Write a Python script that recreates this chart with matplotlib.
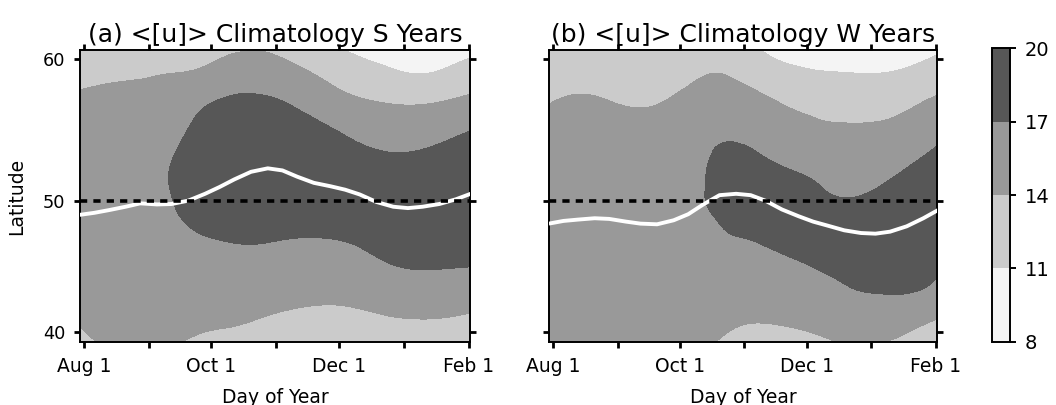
import numpy as np
import matplotlib
matplotlib.use("Agg")
import matplotlib.pyplot as plt
import matplotlib.tri as mtri

# ---------------- data ----------------
days = [-3, 10, 25, 40, 55, 70, 85, 100, 115, 130, 145, 160, 175, 188]   # days since Aug 1
lats = [39, 41, 43, 45, 47, 49, 51, 53, 55, 57, 59, 61]

# <[u]> profiles (m/s), one list per day column, values at lats above
u_S_by_day = [
    [13.3, 14.2, 15.0, 15.6, 15.9, 16.0, 16.0, 15.8, 15.3, 14.5, 13.2, 11.8],
    [14.1, 14.8, 15.3, 15.7, 16.0, 16.2, 16.2, 16.0, 15.6, 14.8, 13.5, 12.0],
    [14.3, 14.9, 15.5, 15.9, 16.2, 16.4, 16.5, 16.3, 15.9, 15.0, 13.7, 12.2],
    [14.1, 14.9, 15.5, 16.0, 16.4, 16.75, 16.95, 16.85, 16.3, 15.3, 14.0, 12.4],
    [13.7, 14.5, 15.3, 16.0, 16.75, 17.5, 17.9, 17.9, 17.5, 16.55, 14.4, 12.6],
    [13.4, 14.3, 15.2, 16.1, 17.05, 17.9, 18.4, 18.5, 18.2, 17.35, 15.5, 13.2],
    [13.0, 13.95, 14.95, 16.0, 17.1, 17.9, 18.4, 18.6, 18.3, 17.4, 15.7, 13.5],
    [12.6, 13.6, 14.65, 15.8, 16.9, 17.8, 18.3, 18.4, 17.95, 16.8, 14.8, 12.6],
    [12.4, 13.4, 14.5, 15.7, 16.9, 17.6, 18.0, 17.9, 17.35, 15.6, 13.55, 11.3],
    [12.5, 13.5, 14.7, 16.0, 17.15, 17.7, 17.9, 17.6, 16.5, 14.5, 12.3, 10.3],
    [12.9, 13.85, 15.2, 16.75, 17.7, 18.0, 17.9, 17.3, 15.9, 13.95, 11.55, 9.5],
    [13.1, 14.0, 15.6, 17.1, 17.9, 18.2, 18.0, 17.35, 16.0, 13.8, 11.0, 9.0],
    [13.0, 13.9, 15.5, 17.05, 17.9, 18.2, 18.1, 17.6, 16.6, 14.3, 11.6, 9.6],
    [12.7, 13.6, 15.2, 16.95, 17.8, 18.1, 18.1, 17.8, 17.15, 15.0, 12.4, 10.2],
]
u_W_by_day = [
    [14.6, 15.0, 15.4, 15.7, 15.9, 16.0, 16.0, 15.8, 15.2, 13.85, 12.5, 11.5],
    [14.7, 15.1, 15.5, 15.8, 16.0, 16.1, 16.1, 15.9, 15.4, 14.45, 12.8, 11.6],
    [14.8, 15.2, 15.6, 15.9, 16.1, 16.2, 16.2, 16.0, 15.4, 14.2, 12.6, 11.5],
    [14.8, 15.2, 15.6, 16.0, 16.2, 16.3, 16.3, 16.1, 15.3, 13.7, 12.3, 11.3],
    [14.7, 15.2, 15.7, 16.1, 16.4, 16.6, 16.6, 16.4, 15.7, 14.2, 12.7, 11.5],
    [14.4, 15.0, 15.6, 16.1, 16.5, 16.7, 16.8, 16.65, 16.3, 15.2, 13.75, 12.2],
    [13.55, 14.4, 15.3, 16.1, 16.8, 17.5, 17.9, 17.6, 16.6, 15.3, 13.85, 12.3],
    [13.3, 14.15, 15.2, 16.2, 17.1, 17.8, 18.0, 17.2, 16.0, 14.65, 12.6, 10.7],
    [13.4, 14.35, 15.5, 16.6, 17.6, 18.0, 17.6, 16.5, 15.2, 13.6, 11.6, 9.8],
    [13.75, 14.7, 16.0, 17.2, 17.8, 17.65, 16.95, 15.95, 14.5, 13.1, 11.2, 9.4],
    [14.05, 15.2, 16.8, 17.7, 18.0, 17.6, 16.65, 15.7, 14.4, 12.9, 11.05, 9.3],
    [13.85, 15.3, 17.05, 17.9, 18.1, 17.9, 17.15, 16.1, 14.6, 13.05, 11.1, 9.2],
    [13.4, 14.6, 16.85, 17.75, 18.1, 18.1, 17.7, 16.95, 15.5, 13.85, 11.75, 9.7],
    [12.7, 13.8, 15.8, 17.2, 17.9, 18.2, 18.2, 17.7, 16.6, 14.8, 12.6, 10.6],
]

# jet latitude (white line)
jet_days = [-2, 5, 12, 20, 27, 35, 42, 50, 58, 65, 72, 80, 88, 95, 102, 110,
            118, 125, 132, 140, 148, 155, 162, 170, 178, 185]
jet_S = [48.95, 49.1, 49.3, 49.55, 49.8, 49.72, 49.75, 50.0, 50.5, 51.0, 51.55,
         52.1, 52.35, 52.2, 51.75, 51.3, 51.05, 50.8, 50.45, 49.9, 49.55, 49.45,
         49.55, 49.75, 50.1, 50.5]
jet_W = [48.3, 48.5, 48.6, 48.7, 48.65, 48.45, 48.3, 48.25, 48.55, 49.0, 49.7,
         50.4, 50.5, 50.4, 50.0, 49.35, 48.85, 48.45, 48.15, 47.8, 47.6, 47.55,
         47.7, 48.1, 48.7, 49.3]

ref_lat = 50
levels = [8, 11, 14, 17, 20]
band_colors = ["#f4f4f4", "#cbcbcb", "#999999", "#575757"]
tick_days = [0, 31, 61, 92, 122, 153, 184]
tick_labels = ["Aug 1", "", "Oct 1", "", "Dec 1", "", "Feb 1"]
lat_ticks = [40, 50, 60]
titles = ["(a) <[u]> Climatology S Years", "(b) <[u]> Climatology W Years"]

# ---------------- figure ----------------
plt.rcParams["font.family"] = ["DejaVu Sans"]
fig = plt.figure(figsize=(10.56, 4.05), dpi=100)

B, C = 13.62, 0.052


def fwd(lat):
    t = np.asarray(lat, dtype=float) - 50.0
    return B * t + C * t * t


def inv(y):
    y = np.asarray(y, dtype=float)
    disc = np.maximum(B * B + 4 * C * y, 0.0)
    return 50.0 + (-B + np.sqrt(disc)) / (2 * C)


rects = [[80 / 1056, 63 / 405, 390 / 1056, 292 / 405],
         [549.3 / 1056, 63 / 405, 388 / 1056, 292 / 405]]

cs = None
for k, (u_by_day, jet, title) in enumerate(zip([u_S_by_day, u_W_by_day],
                                                [jet_S, jet_W], titles)):
    ax = fig.add_axes(rects[k])
    D, L = np.meshgrid(np.array(days, float), np.array(lats, float))
    Z = np.array(u_by_day, float).T
    # triangulate in roughly isotropic coordinates, refine with cubic interpolation
    tri0 = mtri.Triangulation(D.ravel() / 15.0, L.ravel() / 2.0)
    refiner = mtri.UniformTriRefiner(tri0)
    tri_f, z_f = refiner.refine_field(Z.ravel(), subdiv=4)
    tri = mtri.Triangulation(tri_f.x * 15.0, tri_f.y * 2.0, tri_f.triangles)
    cs = ax.tricontourf(tri, z_f, levels=levels, colors=band_colors)
    ax.plot(jet_days, jet, color="white", lw=2.8, solid_capstyle="butt", zorder=3)
    ax.axhline(ref_lat, color="black", lw=2.6, linestyle=(0, (2.0, 1.7)), zorder=4)

    ax.set_yscale("function", functions=(fwd, inv))
    ax.set_ylim(39.17, 60.63)
    ax.set_xlim(-1.8, 184.7)
    ax.set_xticks(tick_days)
    ax.set_xticklabels(tick_labels)
    ax.set_yticks(lat_ticks)
    ax.yaxis.set_minor_locator(matplotlib.ticker.NullLocator())
    ax.tick_params(direction="out", length=4.5, width=2, top=True, right=True, pad=6)
    ax.tick_params(axis="x", labelsize=13.5)
    ax.tick_params(axis="y", labelsize=12.8)
    if k == 0:
        ax.set_yticklabels([str(v) for v in lat_ticks])
        ax.set_ylabel("Latitude", fontsize=13.5, labelpad=12)
    else:
        ax.set_yticklabels([])
    ax.set_xlabel("Day of Year", fontsize=13.5, labelpad=9)
    ax.set_title(title, fontsize=18, pad=6)
    for s in ax.spines.values():
        s.set_linewidth(1.4)

cax = fig.add_axes([991.7 / 1056, (405 - 341.7) / 405, 18.3 / 1056, 293.4 / 405])
cb = fig.colorbar(cs, cax=cax, ticks=levels)
cb.ax.tick_params(direction="out", length=4.5, width=1.4, labelsize=14, pad=6)
cb.outline.set_linewidth(1.4)

fig.savefig("out.png", dpi=100)
